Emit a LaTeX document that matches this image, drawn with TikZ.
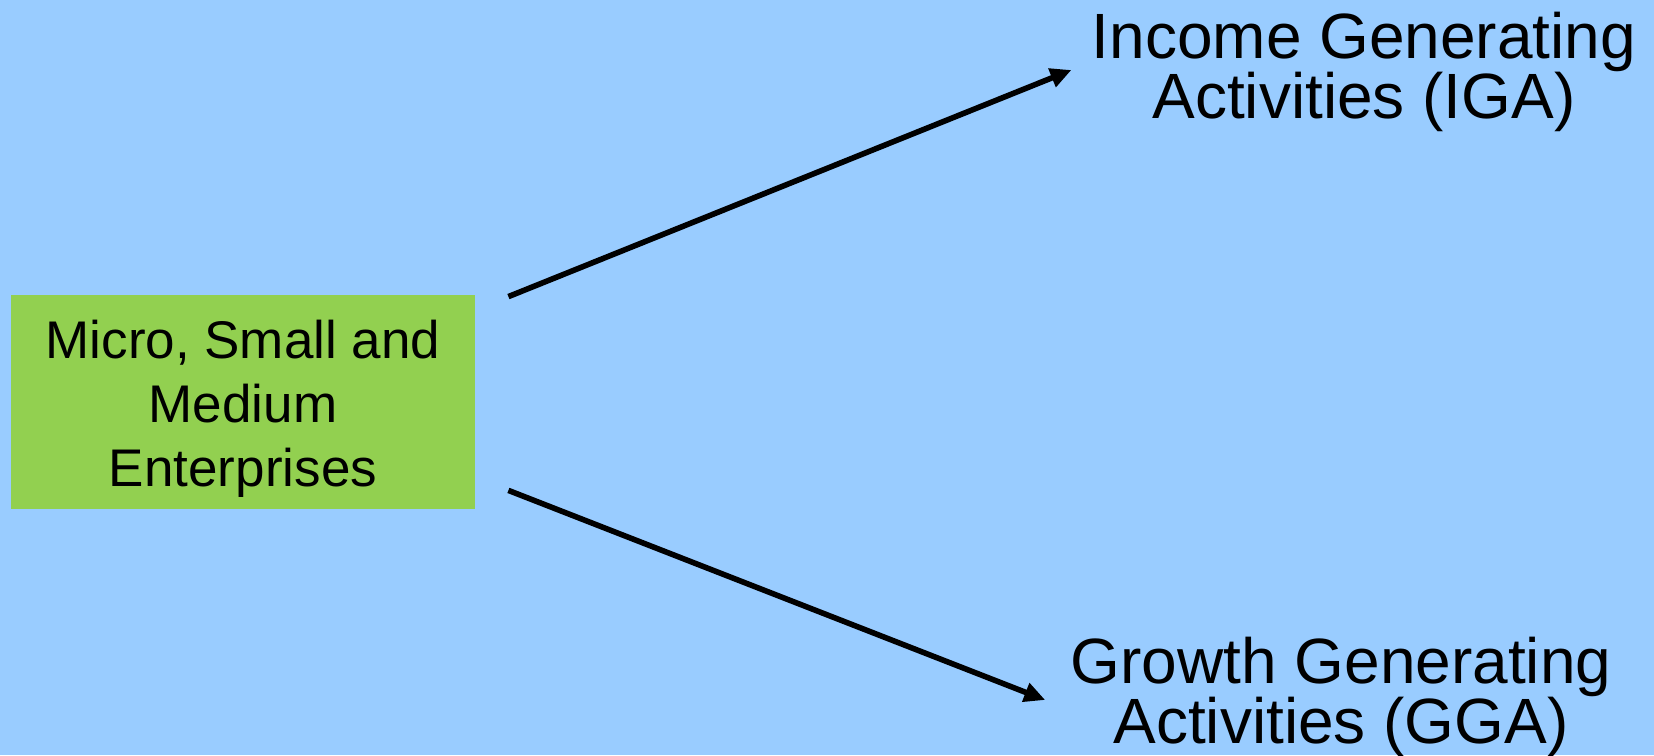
\documentclass[tikz,border=0pt]{standalone}
\usepackage{fontspec}
\setmainfont{Liberation Sans}
\usetikzlibrary{arrows.meta}
\definecolor{skyblue}{HTML}{99CCFF}
\definecolor{leafgreen}{HTML}{92D050}

\begin{document}
\begin{tikzpicture}[x=0.5pt, y=-0.5pt,
	    sector/.style={fill=leafgreen, minimum width=232pt, minimum height=107pt, inner sep=0pt, align=center, font=\fontsize{26.5}{32}\selectfont},
	    activity/.style={inner sep=0pt, align=center, font=\fontsize{32}{30}\selectfont},
	    link/.style={line width=2.8pt, -{Triangle[length=10.5pt, width=9.5pt]}}]

		\fill[skyblue] (0,0) rectangle (1654,755);  % background
		\useasboundingbox (0,0) rectangle (1654,755);

		\node[sector] (msme) at (243,402) {\rule{0pt}{25.5pt}Micro, Small and\\Medium\\Enterprises};
		\node[activity] (iga) at (1364,72) {Income Generating\\Activities (IGA)};
		\node[activity] (gga) at (1341,697) {Growth Generating\\Activities (GGA)};

		\coordinate (msmetop) at ([xshift=16.5pt,yshift=-1pt]msme.north east);
		\coordinate (msmebot) at ([xshift=16.5pt,yshift=9.5pt]msme.south east);

		\draw[link] (msmetop) -- ([xshift=-10pt,yshift=1pt]iga.west);
		\draw[link] (msmebot) -- ([xshift=-12.5pt,yshift=-1.5pt]gga.west); % end of arrows

	  \end{tikzpicture}
\end{document}
